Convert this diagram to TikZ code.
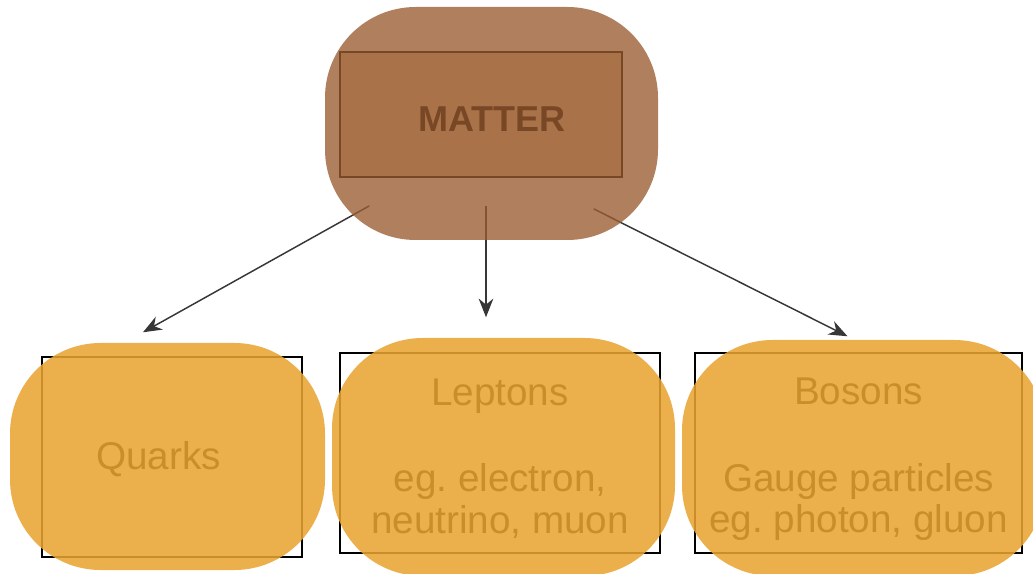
\documentclass[tikz,border=0pt]{standalone}
\usepackage{fontspec}
\setmainfont{Liberation Sans}
\usetikzlibrary{arrows.meta}
\definecolor{mattercol}{RGB}{154,92,49}
\definecolor{mattertan}{RGB}{227,196,154}
\definecolor{partcol}{RGB}{232,163,48}
\definecolor{arrowgray}{RGB}{55,55,55}
\begin{document}
\begin{tikzpicture}[x=0.75pt,y=-0.75pt,
  box/.style={draw=black, line width=1.1pt, inner sep=0pt, align=center, font=\fontsize{29}{31}\selectfont},
  blob/.style={rounded corners=68pt, fill opacity=0.87},
  arr/.style={draw=arrowgray, line width=1.1pt, -{Stealth[length=14pt,width=11pt]}}]
\clip (0,0) rectangle (1033,574);
% boxes under the blobs
\node [box, fill=mattertan, minimum width=211.5pt, minimum height=94pt, font=\fontsize{27}{31}\selectfont\bfseries] (matter) at (481,114.5) {\hspace*{16pt}\rule{0pt}{26pt}MATTER};
\node [box, minimum width=195pt, minimum height=150pt] (quarks) at (172,457) {Quarks\hspace*{20pt}\rule{0pt}{24pt}};
\node [box, minimum width=240pt, minimum height=150pt] (leptons) at (500,453) {\rule{0pt}{28pt}Leptons\\[34pt]eg.\ electron,\\neutrino, muon};
\node [box, minimum width=245pt, minimum height=150pt] (bosons) at (858.5,453) {\rule{0pt}{30pt}Bosons\\[34pt]Gauge particles\\eg.\ photon, gluon};
% arrows
\draw [arr] ([shift={(30,28)}]matter.south west) -- ([shift={(-29,-24)}]quarks.north);
\draw [arr] ([shift={(5,28)}]matter.south) -- ([shift={(-14,-35)}]leptons.north);
\draw [arr] ([shift={(-29,31)}]matter.south east) -- ([shift={(-11,-16)}]bosons.north);
% blobs
\fill [blob, fill=mattercol, fill opacity=0.78] (325,7) rectangle (658,240);
\fill [blob, fill=partcol] (10,343) rectangle (325,570);
\fill [blob, fill=partcol] (332,338) rectangle (675,576);
\fill [blob, fill=partcol] (682,340) rectangle (1045,576);
\end{tikzpicture}
\end{document}
